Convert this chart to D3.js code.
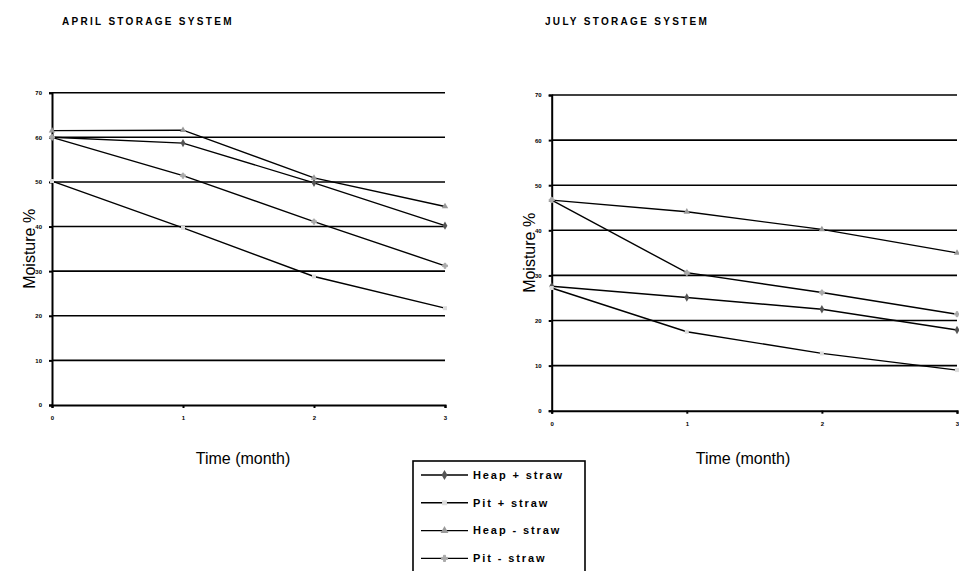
<!DOCTYPE html>
<html lang="en">
<head>
    <meta charset="UTF-8">
    <title>Storage System Moisture</title>
    <style>
        body { margin: 0; background: #fff; }
        svg { display: block; font-family: "Liberation Sans", Arial, sans-serif; }
        .grid line { stroke: #000; stroke-width: 1.6px; }
        .axis path, .axis line { stroke: #000; stroke-width: 2px; }
        .axis text { font-size: 6px; font-weight: bold; fill: #000; }
        .series { fill: none; stroke: #000; stroke-width: 1.4px; }
        .title { font-size: 10px; font-weight: bold; letter-spacing: 2.3px; }
        .axis-title { font-size: 16px; }
        .legend text { font-size: 11px; font-weight: bold; letter-spacing: 1.9px; }
    </style>
</head>
<body>
    <svg id="chart" width="959" height="571"></svg>
    <script src="https://cdn.jsdelivr.net/npm/d3@7/dist/d3.min.js"></script>
    <script>
        // months since storage
        const months = [0, 1, 2, 3];
        const yTicks = [0, 10, 20, 30, 40, 50, 60, 70];
        const seriesNames = ["Heap + straw", "Pit + straw", "Heap - straw", "Pit - straw"];

        // moisture %
        const aprilHeapPlus = [60.0, 58.7, 49.8, 40.2];
        const aprilPitPlus = [50.2, 39.7, 28.8, 21.7];
        const aprilHeapMinus = [61.5, 61.6, 50.9, 44.5];
        const aprilPitMinus = [60.0, 51.4, 41.1, 31.2];

        const julyHeapPlus = [27.6, 25.1, 22.5, 17.9];
        const julyPitPlus = [27.2, 17.5, 12.7, 9.0];
        const julyHeapMinus = [46.7, 44.1, 40.2, 35.0];
        const julyPitMinus = [46.7, 30.6, 26.2, 21.4];

        const markerStyle = [
            { shape: d3.symbolDiamond, fill: "#555", size: 20 },
            { shape: d3.symbolSquare, fill: "#ddd", size: 16 },
            { shape: d3.symbolTriangle, fill: "#999", size: 18 },
            { shape: d3.symbolCross, fill: "#aaa", size: 14 }
        ];

        const svg = d3.select("#chart");

        function drawPanel(opts) {
            const x = d3.scaleLinear().domain([0, 3]).range([opts.left, opts.right]);
            const y = d3.scaleLinear().domain([0, 70]).range([opts.bottom, opts.top]);
            const g = svg.append("g");

            g.append("g").attr("class", "grid")
                .selectAll("line")
                .data(yTicks.filter(t => t > 0))
                .enter().append("line")
                .attr("x1", x(0)).attr("x2", x(3))
                .attr("y1", d => y(d)).attr("y2", d => y(d));

            g.append("g").attr("class", "axis")
                .attr("transform", `translate(${x(0)},0)`)
                .call(d3.axisLeft(y).tickValues(yTicks).tickSize(3).tickPadding(7));

            g.append("g").attr("class", "axis")
                .attr("transform", `translate(0,${y(0)})`)
                .call(d3.axisBottom(x).tickValues(months).tickFormat(d3.format("d")).tickSize(3).tickPadding(8));

            const line = d3.line().x((d, i) => x(months[i])).y(d => y(d));

            opts.data.forEach((vals, k) => {
                g.append("path").attr("class", "series").attr("d", line(vals));
                g.selectAll(null)
                    .data(vals)
                    .enter().append("path")
                    .attr("d", d3.symbol().type(markerStyle[k].shape).size(markerStyle[k].size))
                    .attr("transform", (d, i) => `translate(${x(months[i])},${y(d)})`)
                    .attr("fill", markerStyle[k].fill)
                    .attr("stroke", k === 3 ? "#aaa" : "none");
            });

            svg.append("text").attr("class", "title")
                .attr("x", opts.titleX).attr("y", 25)
                .text(opts.title);

            svg.append("text").attr("class", "axis-title")
                .attr("transform", `translate(${opts.left - 17},${(opts.top + opts.bottom) / 2}) rotate(-90)`)
                .attr("text-anchor", "middle")
                .text("Moisture %");

            svg.append("text").attr("class", "axis-title")
                .attr("x", opts.timeX).attr("y", 464)
                .attr("text-anchor", "middle")
                .text("Time (month)");
        }

        drawPanel({
            title: "APRIL STORAGE SYSTEM", titleX: 62, timeX: 243,
            left: 52, right: 445, top: 92.7, bottom: 405,
            data: [aprilHeapPlus, aprilPitPlus, aprilHeapMinus, aprilPitMinus]
        });

        drawPanel({
            title: "JULY STORAGE SYSTEM", titleX: 545, timeX: 743,
            left: 551.7, right: 957, top: 95, bottom: 410.7,
            data: [julyHeapPlus, julyPitPlus, julyHeapMinus, julyPitMinus]
        });

        // legend
        const legend = svg.append("g").attr("class", "legend");
        legend.append("rect")
            .attr("x", 413).attr("y", 461)
            .attr("width", 172).attr("height", 130)
            .attr("fill", "#fff").attr("stroke", "#000").attr("stroke-width", 1.6);

        const rows = legend.selectAll(".row")
            .data(seriesNames)
            .enter().append("g")
            .attr("class", "row")
            .attr("transform", (d, i) => `translate(0,${475 + i * 27.8})`);

        rows.append("line")
            .attr("x1", 421).attr("x2", 468)
            .attr("stroke", "#000").attr("stroke-width", 1.4);
        rows.append("path")
            .attr("d", (d, i) => d3.symbol().type(markerStyle[i].shape).size(markerStyle[i].size * 1.5)())
            .attr("transform", "translate(444.5,0)")
            .attr("fill", (d, i) => markerStyle[i].fill)
            .attr("stroke", (d, i) => i === 3 ? "#aaa" : "none");
        rows.append("text")
            .attr("x", 473).attr("dy", "0.35em")
            .text(d => d);
    </script>
</body>
</html>
